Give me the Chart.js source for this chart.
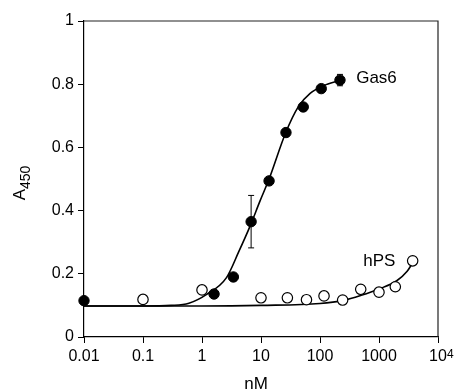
<!DOCTYPE html>
<html>
<head>
<meta charset="utf-8">
<script src="https://cdn.jsdelivr.net/npm/chart.js@4.4.1/dist/chart.umd.min.js"></script>
<style>
  html, body { margin: 0; padding: 0; background: #fff; }
  #wrap { width: 459px; height: 392px; }
</style>
</head>
<body>
<div id="wrap"><canvas id="graphic" width="459" height="392"></canvas></div>
<script>
// Données
const gas6X = [0.01, 1.6, 3.4, 6.8, 13.7, 26.5, 52, 105, 218];
const gas6Y = [0.115, 0.136, 0.19, 0.365, 0.494, 0.647, 0.728, 0.786, 0.813];
const gas6Err = [0, 0, 0, 0.083, 0, 0, 0, 0, 0.018];

const hpsX = [0.1, 1, 10, 28, 59, 117, 242, 490, 1000, 1890, 3720];
const hpsY = [0.119, 0.149, 0.124, 0.124, 0.118, 0.13, 0.117, 0.151, 0.142, 0.159, 0.241];

// courbes d'ajustement
const gas6FitX = [0.01, 0.1, 0.3, 0.6, 1.2, 2.6, 4.2, 6.5, 9.6, 13.7, 26, 43, 68, 114, 218];
const gas6FitY = [0.098, 0.098, 0.1, 0.107, 0.135, 0.188, 0.27, 0.35, 0.43, 0.5, 0.645, 0.729, 0.771, 0.795, 0.812];

const hpsFitX = [0.01, 1, 10, 100, 250, 500, 1000, 2000, 3000, 3720];
const hpsFitY = [0.098, 0.098, 0.1, 0.106, 0.116, 0.132, 0.152, 0.178, 0.208, 0.235];

const xTicks = [0.01, 0.1, 1, 10, 100, 1000, 10000];
// "^" marque l'exposant, dessiné à part
const xTickLabels = ['0.01', '0.1', '1', '10', '100', '1000', '10^4'];
const yTicks = [0, 0.2, 0.4, 0.6, 0.8, 1];
const yTickLabels = ['0', '0.2', '0.4', '0.6', '0.8', '1'];

const FONT = '"Liberation Sans", Arial, sans-serif';

function toPoints(xs, ys) {
  return xs.map((x, i) => ({ x: x, y: ys[i] }));
}

// cadre, barres d'erreur et textes
const extras = {
  id: 'extras',
  afterDatasetsDraw(chart) {
    const ctx = chart.ctx;
    const a = chart.chartArea;
    const sx = chart.scales.x;
    const sy = chart.scales.y;
    ctx.save();

    // cadre haut et droite
    ctx.strokeStyle = '#222';
    ctx.lineWidth = 1.2;
    ctx.beginPath();
    ctx.moveTo(a.left, a.top);
    ctx.lineTo(a.right, a.top);
    ctx.lineTo(a.right, a.bottom);
    ctx.stroke();

    // barres d'erreur
    ctx.strokeStyle = '#000';
    ctx.lineWidth = 1;
    gas6X.forEach((x, i) => {
      const e = gas6Err[i];
      if (!e) return;
      const px = sx.getPixelForValue(x);
      const top = sy.getPixelForValue(gas6Y[i] + e);
      const bot = sy.getPixelForValue(gas6Y[i] - e);
      ctx.beginPath();
      ctx.moveTo(px, top); ctx.lineTo(px, bot);
      ctx.moveTo(px - 3, top); ctx.lineTo(px + 3, top);
      ctx.moveTo(px - 3, bot); ctx.lineTo(px + 3, bot);
      ctx.stroke();
    });

    // exposants des graduations x
    ctx.fillStyle = '#000';
    ctx.textBaseline = 'alphabetic';
    ctx.textAlign = 'left';
    xTickLabels.forEach((lab, i) => {
      const k = lab.indexOf('^');
      if (k < 0) return;
      ctx.font = '16px ' + FONT;
      const wBase = ctx.measureText(lab.slice(0, k)).width;
      const px = sx.getPixelForValue(xTicks[i]);
      ctx.font = '12px ' + FONT;
      ctx.fillText(lab.slice(k + 1), px + wBase / 2, 358);
    });

    // étiquettes des séries
    ctx.font = '17px ' + FONT;
    ctx.textBaseline = 'middle';
    ctx.textAlign = 'left';
    ctx.fillText('Gas6', sx.getPixelForValue(410), sy.getPixelForValue(0.82));
    ctx.fillText('hPS', sx.getPixelForValue(540), sy.getPixelForValue(0.238));

    // titre axe x
    ctx.textAlign = 'center';
    ctx.fillText('nM', 256, 384);

    // titre axe y : A450 (indice)
    ctx.translate(25, 183);
    ctx.rotate(-Math.PI / 2);
    ctx.textBaseline = 'alphabetic';
    ctx.font = '17px ' + FONT;
    const wA = ctx.measureText('A').width;
    ctx.font = '14px ' + FONT;
    const wS = ctx.measureText('450').width;
    const start = -(wA + wS) / 2;
    ctx.textAlign = 'left';
    ctx.font = '17px ' + FONT;
    ctx.fillText('A', start, 0);
    ctx.font = '14px ' + FONT;
    ctx.fillText('450', start + wA, 5);

    ctx.restore();
  }
};

const ctx = document.getElementById('graphic');
new Chart(ctx, {
  type: 'scatter',
  data: {
    datasets: [
      {
        label: 'Gas6',
        data: toPoints(gas6X, gas6Y),
        pointRadius: 5.2,
        pointBackgroundColor: '#000',
        pointBorderColor: '#000',
        pointBorderWidth: 1,
        showLine: false,
        clip: false,
        order: 0
      },
      {
        label: 'hPS',
        data: toPoints(hpsX, hpsY),
        pointRadius: 5.2,
        pointBackgroundColor: '#fff',
        pointBorderColor: '#000',
        pointBorderWidth: 1.2,
        showLine: false,
        clip: false,
        order: 0
      },
      {
        label: 'Gas6 fit',
        data: toPoints(gas6FitX, gas6FitY),
        showLine: true,
        borderColor: '#000',
        borderWidth: 1.6,
        pointRadius: 0,
        cubicInterpolationMode: 'monotone',
        order: 1
      },
      {
        label: 'hPS fit',
        data: toPoints(hpsFitX, hpsFitY),
        showLine: true,
        borderColor: '#000',
        borderWidth: 1.6,
        pointRadius: 0,
        cubicInterpolationMode: 'monotone',
        order: 1
      }
    ]
  },
  options: {
    responsive: false,
    animation: false,
    layout: { padding: { top: 21, right: 21, left: 0, bottom: 0 } },
    plugins: {
      legend: { display: false },
      tooltip: { enabled: false }
    },
    scales: {
      x: {
        type: 'logarithmic',
        min: 0.01,
        max: 10000,
        afterBuildTicks: (axis) => { axis.ticks = xTicks.map(v => ({ value: v })); },
        afterFit: (axis) => { axis.height = 55; },
        ticks: {
          autoSkip: false,
          maxRotation: 0,
          padding: 4,
          color: '#000',
          font: { family: FONT, size: 16 },
          callback: (v, i) => xTickLabels[i].split('^')[0]
        },
        grid: { drawOnChartArea: false, drawTicks: true, tickLength: 6, color: '#000', lineWidth: 1 },
        border: { display: true, color: '#000', width: 1.2 }
      },
      y: {
        type: 'linear',
        min: 0,
        max: 1,
        afterBuildTicks: (axis) => { axis.ticks = yTicks.map(v => ({ value: v })); },
        afterFit: (axis) => { axis.width = 84; },
        ticks: {
          padding: 4,
          color: '#000',
          font: { family: FONT, size: 16 },
          callback: (v, i) => yTickLabels[i]
        },
        grid: { drawOnChartArea: false, drawTicks: true, tickLength: 6, color: '#000', lineWidth: 1 },
        border: { display: true, color: '#000', width: 1.2 }
      }
    }
  },
  plugins: [extras]
});
</script>
</body>
</html>
